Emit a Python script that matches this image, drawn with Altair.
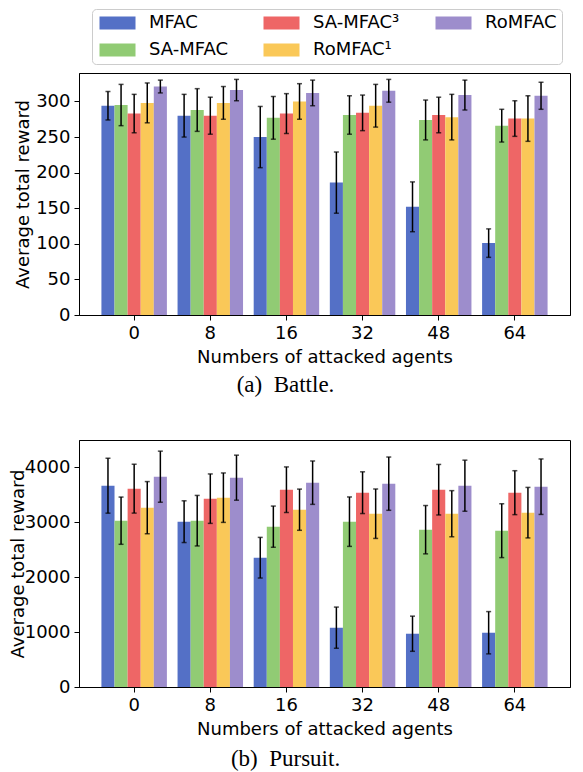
import altair as alt
import pandas as pd

agents = ["0", "8", "16", "32", "48", "64"]
methods = ["MFAC", "SA-MFAC", "SA-MFAC³", "RoMFAC¹", "RoMFAC"]
colors = ["#5470C6", "#91CB74", "#EE6666", "#FAC858", "#9D8DCC"]

battle_mean = {
    "MFAC": [294, 280, 250, 186, 152, 101],
    "SA-MFAC": [295, 288, 277, 281, 274, 266],
    "SA-MFAC³": [283, 280, 283, 284, 281, 276],
    "RoMFAC¹": [298, 298, 300, 294, 278, 276],
    "RoMFAC": [321, 316, 312, 315, 309, 308],
}
battle_err = {
    "MFAC": [20, 30, 43, 43, 35, 20],
    "SA-MFAC": [29, 30, 30, 27, 28, 23],
    "SA-MFAC³": [27, 26, 28, 25, 25, 25],
    "RoMFAC¹": [28, 23, 25, 30, 32, 32],
    "RoMFAC": [9, 15, 18, 16, 21, 19],
}
pursuit_mean = {
    "MFAC": [3665, 3010, 2354, 1080, 970, 988],
    "SA-MFAC": [3028, 3028, 2919, 3010, 2864, 2846],
    "SA-MFAC³": [3611, 3429, 3592, 3538, 3592, 3538],
    "RoMFAC¹": [3265, 3447, 3228, 3155, 3155, 3174],
    "RoMFAC": [3829, 3811, 3720, 3702, 3665, 3647],
}
pursuit_err = {
    "MFAC": [500, 380, 370, 375, 320, 385],
    "SA-MFAC": [430, 460, 375, 450, 440, 490],
    "SA-MFAC³": [445, 450, 415, 380, 460, 400],
    "RoMFAC¹": [475, 450, 375, 450, 420, 460],
    "RoMFAC": [465, 410, 395, 485, 465, 505],
}


def table(means, errs):
    rows = []
    for m in methods:
        for a, v, e in zip(agents, means[m], errs[m]):
            rows.append({"agents": a, "method": m, "mean": v, "lo": v - e, "hi": v + e})
    return pd.DataFrame(rows)


legend_path = "M-1,-1L4.54,-1L4.54,1L-1,1Z"
W = 491


def panel(df, height, ymax, yticks, caption, cap_dx, cap_offset, title_pad, show_legend):
    x = alt.X("agents:N", sort=agents,
              scale=alt.Scale(paddingInner=0.14, paddingOuter=0.2945),
              axis=alt.Axis(title="Numbers of attacked agents", labelAngle=0,
                            labelPadding=4, titlePadding=6))
    xo = alt.XOffset("method:N", sort=methods,
                     scale=alt.Scale(paddingInner=0, paddingOuter=0))
    y = alt.Y("mean:Q", scale=alt.Scale(domain=[0, ymax], nice=False, zero=True),
              axis=alt.Axis(title="Average total reward", values=yticks, format="d",
                            titlePadding=title_pad, labelPadding=4))
    if show_legend:
        leg = alt.Legend(title=None, orient="none", legendX=13, legendY=-64,
                         columns=3, symbolType=legend_path, symbolSize=169,
                         symbolStrokeWidth=0, symbolOpacity=1,
                         labelFont="DejaVu Sans", labelFontSize=18,
                         labelColor="black", labelOffset=34, labelLimit=300,
                         strokeColor="#cccccc", fillColor="white", padding=5,
                         cornerRadius=4, rowPadding=9, columnPadding=33)
    else:
        leg = None
    color = alt.Color("method:N",
                      scale=alt.Scale(domain=methods, range=colors),
                      legend=leg)
    base = alt.Chart(df)
    bars = base.mark_bar().encode(x=x, xOffset=xo, y=y, color=color)
    rule = base.mark_rule(color="black", strokeWidth=1.5).encode(
        x=x, xOffset=xo, y="lo:Q", y2="hi:Q")
    cap_lo = base.mark_tick(color="black", thickness=1.5, size=5, orient="horizontal").encode(
        x=x, xOffset=xo, y="lo:Q")
    cap_hi = base.mark_tick(color="black", thickness=1.5, size=5, orient="horizontal").encode(
        x=x, xOffset=xo, y="hi:Q")
    return alt.layer(bars, rule, cap_lo, cap_hi).properties(
        width=W, height=height,
        title=alt.TitleParams(caption, orient="bottom", anchor="middle", frame="group",
                              font="Liberation Serif", fontSize=23,
                              fontWeight="normal", color="black", dx=cap_dx,
                              offset=cap_offset),
    )


top = panel(table(battle_mean, battle_err), 242, 340,
            [0, 50, 100, 150, 200, 250, 300], "(a)\u00a0\u00a0Battle.", -39, 8, 3, True)
bottom = panel(table(pursuit_mean, pursuit_err), 247, 4497,
               [0, 1000, 2000, 3000, 4000], "(b)\u00a0\u00a0Pursuit.", -39, 10, -3, False)

chart = alt.concat(top, bottom, columns=1, align="all", spacing=34).resolve_scale(
    color="independent").resolve_legend(color="independent").properties(
    padding={"left": 0, "top": 0, "right": 0, "bottom": 0},
    background="white",
).configure_axis(
    labelFont="DejaVu Sans", labelFontSize=18, titleFont="DejaVu Sans",
    titleFontSize=18, titleFontWeight="normal", labelColor="black",
    titleColor="black", tickColor="black", domainColor="black", tickSize=5,
    grid=False,
).configure_view(stroke="black", strokeWidth=1)

chart.save("out.html", embed_options={"renderer": "svg", "actions": False})
